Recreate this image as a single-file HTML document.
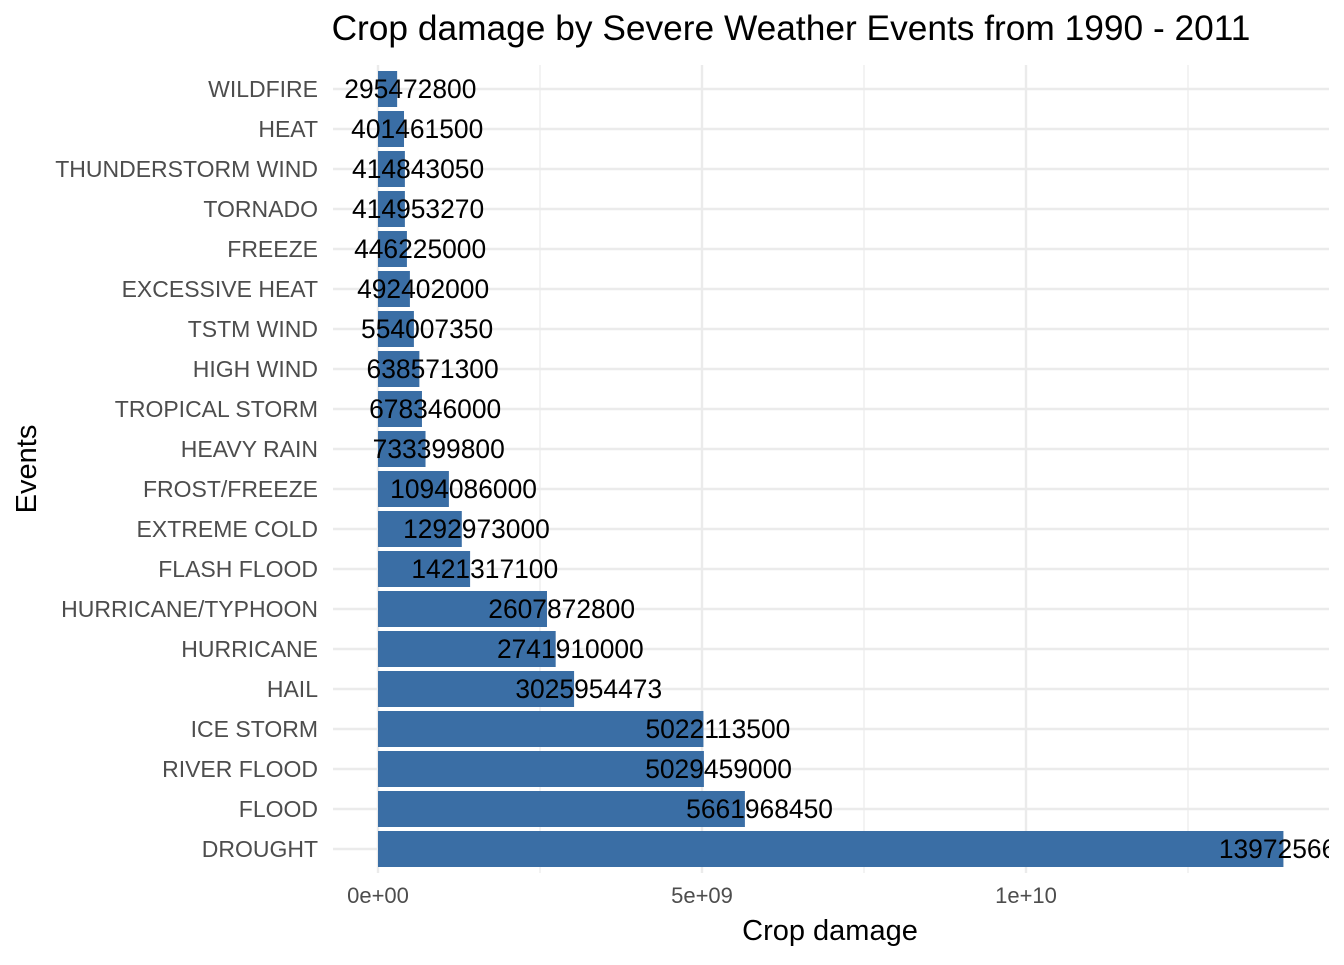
<!DOCTYPE html>
<html><head><meta charset="utf-8"><style>
body{margin:0;background:#fff;}
svg text{font-family:"Liberation Sans",Arial,sans-serif;}
</style></head><body>
<svg width="1344" height="960" xmlns="http://www.w3.org/2000/svg">
<defs><clipPath id="pc"><rect x="333" y="65" width="996" height="808"/></clipPath></defs>
<g id="grid"></g>
<g id="bars" clip-path="url(#pc)"></g>
<g id="ylab"></g>
<g id="xlab"></g>
<text x="791" y="40" font-size="35.3" text-anchor="middle" fill="#000">Crop damage by Severe Weather Events from 1990 - 2011</text>
<text x="830" y="940" font-size="29" text-anchor="middle" fill="#000">Crop damage</text>
<text transform="translate(36,469) rotate(-90)" font-size="29" text-anchor="middle" fill="#000">Events</text>
</svg>
<script>
const categories=["WILDFIRE","HEAT","THUNDERSTORM WIND","TORNADO","FREEZE","EXCESSIVE HEAT","TSTM WIND","HIGH WIND","TROPICAL STORM","HEAVY RAIN","FROST/FREEZE","EXTREME COLD","FLASH FLOOD","HURRICANE/TYPHOON","HURRICANE","HAIL","ICE STORM","RIVER FLOOD","FLOOD","DROUGHT"];
const values=[295472800,401461500,414843050,414953270,446225000,492402000,554007350,638571300,678346000,733399800,1094086000,1292973000,1421317100,2607872800,2741910000,3025954473,5022113500,5029459000,5661968450,13972566000];
const xTicks=[0,5e9,1e10];
const xTickLabels=["0e+00","5e+09","1e+10"];
const xMinor=[2.5e9,7.5e9,1.25e10];
const NS="http://www.w3.org/2000/svg";
const X=v=>378+v*324/5e9;
const Y=i=>89+i*40;
function mk(t,a,p){const e=document.createElementNS(NS,t);for(const k in a)e.setAttribute(k,a[k]);p.appendChild(e);return e;}
const grid=document.getElementById('grid'),bars=document.getElementById('bars'),yl=document.getElementById('ylab'),xl=document.getElementById('xlab');
xMinor.forEach(v=>{const l=mk('line',{x1:X(v),x2:X(v),y1:65,y2:873,stroke:'#ebebeb','stroke-width':1.2},grid);

});
xTicks.forEach((v,i)=>{const l=mk('line',{x1:X(v),x2:X(v),y1:65,y2:873,stroke:'#ebebeb','stroke-width':2.4},grid);


const t=mk('text',{x:X(v),y:903,'font-size':22,'text-anchor':'middle',fill:'#4d4d4d'},xl);t.textContent=xTickLabels[i];

});
categories.forEach((c,i)=>{const l=mk('line',{x1:333,x2:1329,y1:Y(i),y2:Y(i),stroke:'#ebebeb','stroke-width':2.4},grid);


const t=mk('text',{x:318,y:Y(i)+8,'font-size':23,'text-anchor':'end',fill:'#4d4d4d'},yl);t.textContent=c;


const r=mk('rect',{x:X(0),y:Y(i)-18,width:X(values[i])-X(0),height:36,fill:'#3a6ea5'},bars);


const v=mk('text',{x:X(values[i]),y:Y(i)+9,'font-size':26.4,'text-anchor':'start',fill:'#000'},bars);v.textContent=values[i];


const w=v.getComputedTextLength();v.setAttribute('x',X(values[i])-0.4*w);});
</script>
</body></html>
